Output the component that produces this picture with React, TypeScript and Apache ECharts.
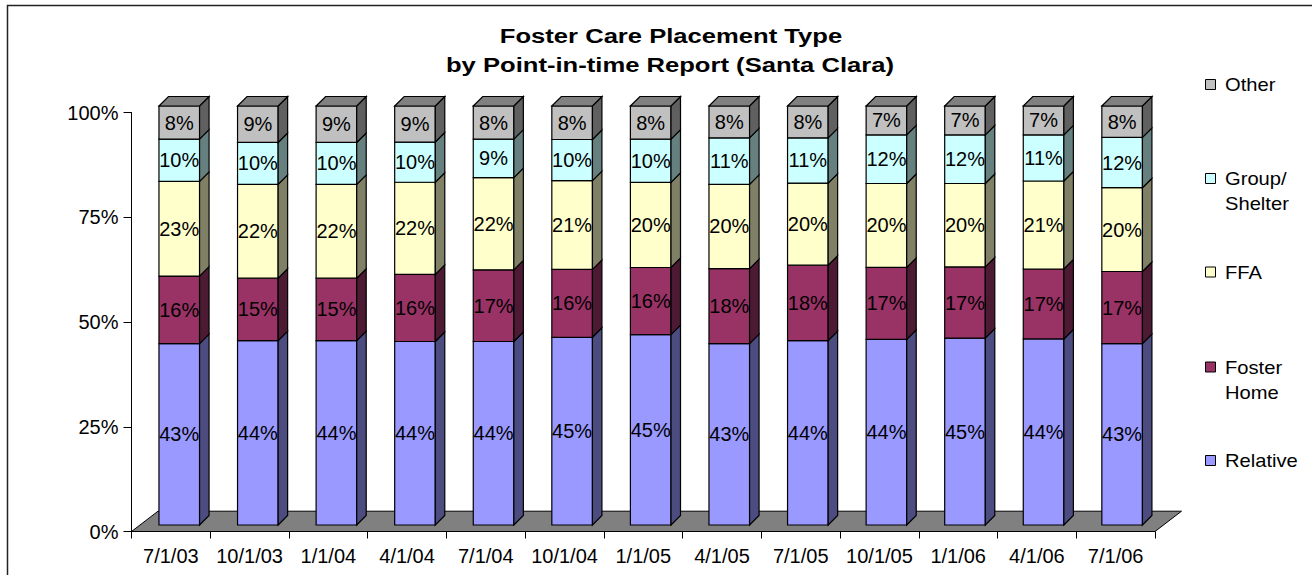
import React, { useEffect, useRef } from 'react';
import * as echarts from 'echarts';

const categories = ['7/1/03', '10/1/03', '1/1/04', '4/1/04', '7/1/04', '10/1/04', '1/1/05', '4/1/05', '7/1/05', '10/1/05', '1/1/06', '4/1/06', '7/1/06'];
const relative = [43.3, 44.0, 44.0, 43.8, 43.8, 44.8, 45.4, 43.3, 44.0, 44.3, 44.6, 44.4, 43.3];
const fosterHome = [16.1, 14.9, 14.9, 16.0, 17.1, 16.2, 16.0, 17.9, 18.0, 17.2, 17.0, 16.7, 17.2];
const ffa = [22.6, 22.4, 22.4, 22.0, 22.0, 21.2, 20.3, 20.1, 19.6, 20.0, 19.9, 21.0, 20.0];
const groupShelter = [10.1, 10.0, 10.0, 9.6, 9.2, 9.8, 10.3, 11.1, 10.8, 11.6, 11.6, 11.0, 12.0];
const other = [7.9, 8.7, 8.7, 8.6, 7.9, 8.0, 7.9, 7.6, 7.6, 6.9, 6.9, 6.9, 7.5];
const seriesNames = ['Relative', 'Foster Home', 'FFA', 'Group/Shelter', 'Other'];
const legendLines = [['Relative'], ['Foster', 'Home'], ['FFA'], ['Group/', 'Shelter'], ['Other']];
const yTickValues = [0, 25, 50, 75, 100];

const FONT = "'Liberation Sans', Arial, Helvetica, sans-serif";

export default function App() {
  const ref = useRef<HTMLDivElement>(null);
  useEffect(() => {
    const chart = echarts.init(ref.current!, null, { renderer: 'svg' });
    const seriesValues = [relative, fosterHome, ffa, groupShelter, other];
    const totals = categories.map((_, j) => seriesValues.reduce((s, arr) => s + arr[j], 0));
    const fronts = ['#9999FF', '#993366', '#FFFFCC', '#CCFFFF', '#C0C0C0'];
    const sides = ['#4C4C80', '#4D1A33', '#808066', '#668080', '#606060'];
    const topColor = '#808080';
    const DX = 9.5, DY = 9.5, HALF_W = 20.3, SHIFT_Y = 6.5;
    const shiftX = (j: number) => 8.4 - 0.158 * j;

    const barSeries = seriesValues.map((vals, i) => {
      const data = vals.map((v, j) => {
        let base = 0;
        for (let k = 0; k < i; k++) base += seriesValues[k][j];
        return [j, (base / totals[j]) * 100, ((base + v) / totals[j]) * 100, v];
      });
      return {
        type: 'custom',
        name: seriesNames[i],
        data,
        z: 3,
        silent: true,
        itemStyle: { color: fronts[i], borderColor: '#000', borderWidth: 1 },
        renderItem: (params: any, api: any) => {
          const j = api.value(0);
          const p0 = api.coord([j, api.value(1)]);
          const p1 = api.coord([j, api.value(2)]);
          const cx = p0[0] + shiftX(j);
          const xL = cx - HALF_W, xR = cx + HALF_W;
          const yB = p0[1] - SHIFT_Y, yT = p1[1] - SHIFT_Y;
          const children: any[] = [
            {
              type: 'rect',
              shape: { x: xL, y: yT, width: xR - xL, height: yB - yT },
              style: { fill: fronts[i], stroke: '#000', lineWidth: 1.2 },
            },
            {
              type: 'polygon',
              shape: { points: [[xR, yB], [xR, yT], [xR + DX, yT - DY], [xR + DX, yB - DY]] },
              style: { fill: sides[i], stroke: '#000', lineWidth: 1.2 },
            },
          ];
          if (i === seriesValues.length - 1) {
            children.push({
              type: 'polygon',
              shape: { points: [[xL, yT], [xL + DX, yT - DY], [xR + DX, yT - DY], [xR, yT]] },
              style: { fill: topColor, stroke: '#000', lineWidth: 1.2 },
            });
          }
          children.push({
            type: 'text',
            x: cx,
            y: (yT + yB) / 2,
            style: {
              text: Math.round(api.value(3)) + '%',
              fontSize: 20,
              fontFamily: FONT,
              fill: '#000',
              align: 'center',
              verticalAlign: 'middle',
            },
          });
          return { type: 'group', children };
        },
      };
    });

    const floorSeries = {
      type: 'custom',
      name: 'floor',
      data: [[0, 0]],
      z: 1,
      silent: true,
      renderItem: (params: any, api: any) => {
        const bw = api.size([1, 0])[0];
        const p = api.coord([0, 0]);
        const x0 = p[0] - bw / 2;
        const x1 = x0 + bw * categories.length;
        const y0 = p[1];
        return {
          type: 'polygon',
          shape: { points: [[x0, y0], [x1, y0], [x1 + 26.5, y0 - 20.3], [x0 + 26.5, y0 - 20.3]] },
          style: { fill: '#808080', stroke: '#000', lineWidth: 1 },
        };
      },
    };

    const legendY = [461, 367.5, 272.5, 179, 85];
    const legendGraphics: any[] = [];
    seriesNames.forEach((name, i) => {
      legendGraphics.push({
        type: 'rect',
        shape: { x: 1205.5, y: legendY[i] - 5.5, width: 10, height: 10 },
        style: { fill: fronts[i], stroke: '#000', lineWidth: 1 },
        silent: true,
      });
      legendLines[i].forEach((line, li) => {
        legendGraphics.push({
          type: 'text',
          x: 1225,
          y: legendY[i] + li * 25,
          scaleX: 1.12,
          style: {
            text: line,
            fontSize: 18,
            fontFamily: FONT,
            fill: '#000',
            align: 'left',
            verticalAlign: 'middle',
          },
          silent: true,
        });
      });
    });

    chart.setOption({
      animation: false,
      backgroundColor: '#fff',
      grid: { left: 131.5, top: 112.5, width: 1023.5, height: 419, containLabel: false },
      xAxis: {
        type: 'category',
        data: categories,
        boundaryGap: true,
        axisLine: { show: true, lineStyle: { color: '#000', width: 1 } },
        axisTick: { show: true, alignWithLabel: false, length: 7, lineStyle: { color: '#000', width: 1 } },
        axisLabel: { color: '#000', fontSize: 20, fontFamily: FONT, margin: 14, interval: 0 },
        splitLine: { show: false },
      },
      yAxis: {
        type: 'value',
        min: yTickValues[0],
        max: yTickValues[yTickValues.length - 1],
        interval: 25,
        axisLine: { show: true, lineStyle: { color: '#000', width: 1 } },
        axisTick: { show: true, length: 8, lineStyle: { color: '#000', width: 1 } },
        axisLabel: { color: '#000', fontSize: 20, fontFamily: FONT, margin: 13, formatter: '{value}%' },
        splitLine: { show: false },
      },
      graphic: [
        {
          type: 'rect',
          shape: { x: 7.5, y: 5.5, width: 1400, height: 700 },
          style: { fill: 'none', stroke: '#222', lineWidth: 1.5 },
          silent: true,
          z: -10,
        },
        {
          type: 'text',
          x: 671,
          y: 36,
          scaleX: 1.22,
          style: {
            text: 'Foster Care Placement Type',
            fontSize: 21,
            fontWeight: 'bold',
            fontFamily: FONT,
            fill: '#000',
            align: 'center',
            verticalAlign: 'middle',
          },
          silent: true,
        },
        {
          type: 'text',
          x: 670,
          y: 65,
          scaleX: 1.22,
          style: {
            text: 'by Point-in-time Report (Santa Clara)',
            fontSize: 21,
            fontWeight: 'bold',
            fontFamily: FONT,
            fill: '#000',
            align: 'center',
            verticalAlign: 'middle',
          },
          silent: true,
        },
        ...legendGraphics,
      ],
      series: [floorSeries, ...barSeries],
    });
    return () => chart.dispose();
  }, []);
  return <div ref={ref} style={{ position: 'absolute', left: 0, top: 0, width: 1312, height: 575 }} />;
}
